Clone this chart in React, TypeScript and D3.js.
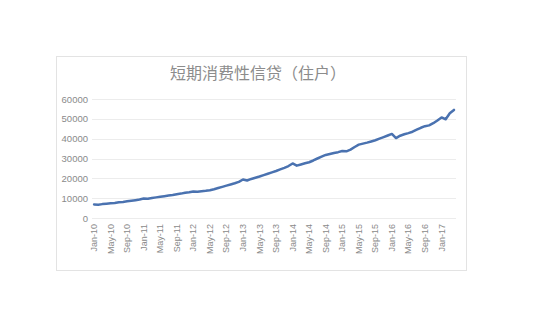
import React from "react";
import * as d3 from "d3";

const title = "短期消费性信贷（住户）";
const monthNames = ["Jan", "Feb", "Mar", "Apr", "May", "Jun", "Jul", "Aug", "Sep", "Oct", "Nov", "Dec"];
const years = [10, 11, 12, 13, 14, 15, 16, 17];
const categories: string[] = [];
years.forEach((y) => monthNames.forEach((m) => categories.push(`${m}-${y}`)));
const values2010 = [6800, 6700, 7000, 7200, 7400, 7600, 7900, 8100, 8400, 8700, 9000, 9300];
const values2011 = [9800, 9700, 10100, 10400, 10700, 11000, 11300, 11600, 12000, 12300, 12700, 13000];
const values2012 = [13400, 13200, 13500, 13700, 14000, 14500, 15100, 15700, 16300, 16900, 17500, 18200];
const values2013 = [19400, 18900, 19700, 20300, 20900, 21600, 22300, 23000, 23700, 24500, 25300, 26200];
const values2014 = [27500, 26400, 27000, 27600, 28100, 29000, 30000, 30900, 31800, 32300, 32800, 33200];
const values2015 = [33800, 33600, 34500, 35800, 37000, 37500, 38000, 38600, 39200, 40000, 40800, 41600];
const values2016 = [42400, 40300, 41500, 42200, 42800, 43500, 44500, 45500, 46300, 46700, 47800, 49200];
const values2017 = [50700, 49800, 52800, 54500];
const values = [
  ...values2010, ...values2011, ...values2012, ...values2013,
  ...values2014, ...values2015, ...values2016, ...values2017,
];
const cats = categories.slice(0, values.length);
const yTicks = [0, 10000, 20000, 30000, 40000, 50000, 60000];

export default function App() {
  const W = 536, H = 316;
  const plot = { left: 92, right: 456, top: 99, bottom: 218 };
  const x = d3.scaleBand<string>().domain(cats).range([plot.left, plot.right]);
  const y = d3.scaleLinear().domain([0, 60000]).range([plot.bottom, plot.top]);
  const cx = (c: string) => (x(c) as number) + x.bandwidth() / 2;
  const line = d3.line<number>()
    .x((_, i) => cx(cats[i]))
    .y((d) => y(d))
    .curve(d3.curveLinear);
  const labelCats = cats.filter((_, i) => i % 4 === 0);
  const font = "'Liberation Sans', Arial, sans-serif";
  return (
    <svg width={W} height={H} style={{ position: "absolute", left: 0, top: 0, background: "#fff" }}>
      <rect x={56.5} y={56.5} width={410} height={214} fill="#fff" stroke="#e3e3e3" strokeWidth={1} />
      <text x={258} y={79} textAnchor="middle" fontSize={16} fill="#8c8c8c" fontFamily="'Noto Sans CJK SC', sans-serif">
        {title}
      </text>
      {yTicks.map((t) => (
        <g key={t}>
          <line x1={plot.left} x2={plot.right} y1={Math.round(y(t)) + 0.5} y2={Math.round(y(t)) + 0.5} stroke="#ececec" strokeWidth={1} />
          <text x={88} y={y(t) + 3.5} textAnchor="end" fontSize={9.5} fill="#8a8a8a" fontFamily={font}>
            {d3.format("d")(t)}
          </text>
        </g>
      ))}
      {labelCats.map((c) => (
        <text key={c} transform={`translate(${cx(c) + 3},224) rotate(-90)`} textAnchor="end" fontSize={9} fill="#8a8a8a" fontFamily={font}>
          {c}
        </text>
      ))}
      <path d={line(values) || ""} fill="none" stroke="#4a72b0" strokeWidth={2.5} strokeLinejoin="round" strokeLinecap="round" />
    </svg>
  );
}
